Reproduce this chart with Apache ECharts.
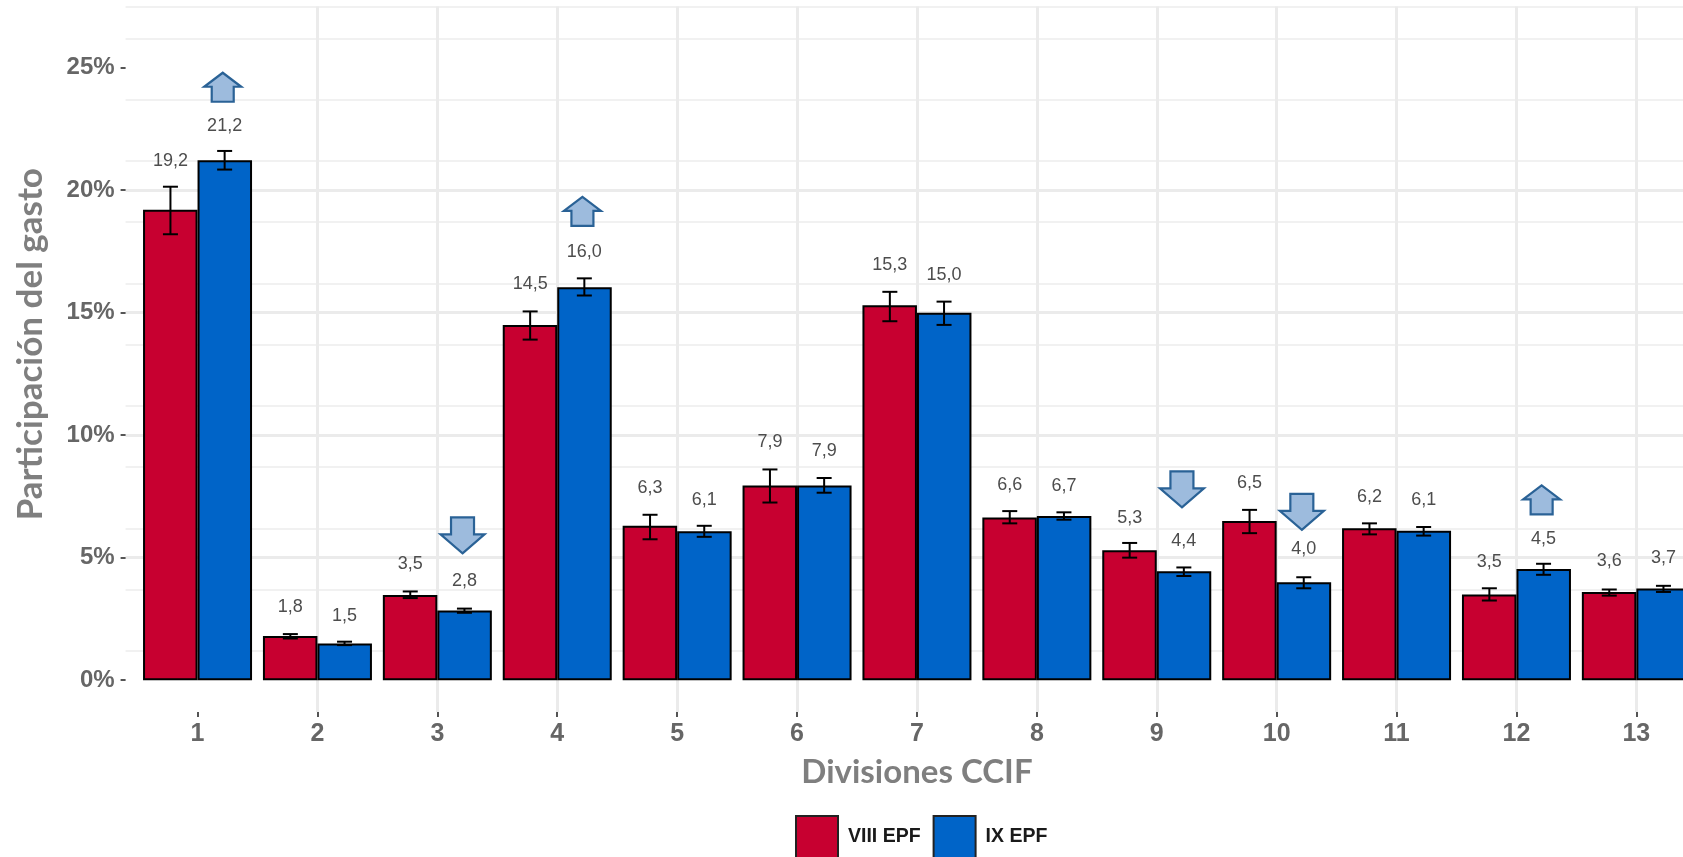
<!DOCTYPE html>
<html><head><meta charset="utf-8">
<style>html,body{margin:0;padding:0;background:#fff}#c{width:1683px;height:857px}</style>
<script src="https://cdn.jsdelivr.net/npm/echarts@6/dist/echarts.min.js"></script>
</head><body><div id="c"></div>
<script>
const divisions=[1,2,3,4,5,6,7,8,9,10,11,12,13];
const viiiValues=[19.2,1.8,3.48,14.5,6.3,7.94,15.3,6.64,5.3,6.5,6.2,3.5,3.6];
const ixValues=[21.22,1.5,2.84,16.04,6.08,7.94,15.0,6.7,4.44,4.0,6.1,4.54,3.74];
const viiiLow=[18.2,1.7,3.35,13.9,5.75,7.25,14.65,6.4,5.0,6.0,5.95,3.25,3.45];
const viiiHigh=[20.14,1.88,3.62,15.05,6.75,8.6,15.85,6.9,5.6,6.95,6.4,3.75,3.7];
const ixLow=[20.84,1.43,2.75,15.7,5.85,7.65,14.5,6.55,4.25,3.75,5.9,4.3,3.6];
const ixHigh=[21.6,1.57,2.92,16.4,6.3,8.25,15.45,6.85,4.6,4.2,6.25,4.75,3.85];
const viiiLabelLevel=[21.2,2.98,4.73,16.16,7.84,9.72,16.94,7.97,6.61,8.06,7.49,4.82,4.86];
const ixLabelLevel=[22.6,2.63,4.03,17.47,7.36,9.37,16.55,7.92,5.69,5.34,7.36,5.78,4.99];
const arrowDivision=[1,3,4,9,10,12];
const arrowLevel=[24.2,5.91,19.13,7.79,6.87,7.36];
const arrowUp=[1,0,1,0,0,1];
const yTicks=[0,5,10,15,20,25];
const groupNames=['VIII EPF','IX EPF'];
const colors=['#C70030','#0064C8'];

const OFF=0.226;
const chart=echarts.init(document.getElementById('c'),null,{renderer:'canvas'});
const pairs=a=>a.map((v,i)=>[divisions[i],v]);
const fmt=v=>v.toFixed(1).replace('.',',');

function errItem(shift){
  return function(p,api){
    const x=api.value(0)+shift;
    const a=api.coord([x,api.value(1)]),b=api.coord([x,api.value(2)]);
    const cap=7.5;
    const st={stroke:'#000',lineWidth:2,fill:null};
    return {type:'group',children:[
      {type:'line',shape:{x1:a[0],y1:a[1],x2:b[0],y2:b[1]},style:st},
      {type:'line',shape:{x1:a[0]-cap,y1:a[1],x2:a[0]+cap,y2:a[1]},style:st},
      {type:'line',shape:{x1:b[0]-cap,y1:b[1],x2:b[0]+cap,y2:b[1]},style:st}
    ]};
  };
}
function labelItem(shift){
  return function(p,api){
    const c=api.coord([api.value(0)+shift,api.value(1)]);
    return {type:'text',x:c[0],y:c[1],style:{text:fmt(api.value(2)),fill:'#4d4d4d',
      font:'18px "Liberation Sans"',align:'center',verticalAlign:'middle'}};
  };
}
function arrowItem(p,api){
  const c=api.coord([api.value(0),api.value(1)]);
  const up=api.value(2)===1;
  const hw=up?18.5:22, hh=up?14.5:18, sw=up?11:11.5, head=up?14:19;
  const s=up?1:-1;
  const pts=[[0,-hh],[hw,-hh+head],[sw,-hh+head],[sw,hh],[-sw,hh],[-sw,-hh+head],[-hw,-hh+head]]
    .map(q=>[c[0]+q[0],c[1]+s*q[1]]);
  return {type:'polygon',shape:{points:pts},style:{fill:'#9DBBDD',stroke:'#2A6296',lineWidth:2.2}};
}

const grid={left:125.6,top:6.4,width:1582.7,height:705.6,outerBoundsMode:'none'};
const option={
  animation:false,
  backgroundColor:'#fff',
  grid:grid,
  legend:{data:groupNames.map(n=>({name:n,icon:'rect'})),left:790,top:810,itemWidth:42,itemHeight:42,itemGap:12,
    itemStyle:{borderColor:'#222',borderWidth:2},
    textStyle:{fontFamily:'Liberation Sans',fontWeight:'bold',fontSize:19.5,color:'#1a1a1a',padding:[0,0,0,5]}},
  xAxis:{type:'value',min:0.4,max:13.6,interval:1,
    name:'Divisiones CCIF',nameLocation:'middle',nameGap:0,
    nameTextStyle:{fontFamily:'Lato',fontWeight:'bold',fontSize:33,color:'#7f7f7f',padding:[44,0,0,0]},
    axisLine:{show:false,onZero:false},
    axisTick:{show:true,length:5,lineStyle:{color:'#555',width:2},customValues:divisions},
    axisLabel:{customValues:divisions,color:'#666',fontFamily:'Liberation Sans',fontWeight:'bold',fontSize:25,margin:10,
      formatter:v=>String(v)},
    splitLine:{show:true,showMinLine:false,lineStyle:{color:'#ebebeb',width:3}}
  },
  yAxis:[
    {type:'value',min:-1.3,max:27.5,interval:5,
     name:'Participación del gasto',nameLocation:'middle',nameGap:0,nameRotate:90,
     nameTextStyle:{fontFamily:'Lato',fontWeight:'bold',fontSize:35,color:'#7f7f7f',padding:[0,0,77,30]},
     axisLine:{show:false},
     axisTick:{show:true,length:5,lineStyle:{color:'#555',width:2},customValues:yTicks},
     axisLabel:{customValues:yTicks,color:'#666',fontFamily:'Liberation Sans',fontWeight:'bold',fontSize:24,margin:11,
       formatter:v=>v+'%'},
     splitLine:{show:true,showMinLine:false,showMaxLine:false,lineStyle:{color:'#ebebeb',width:3}}},
    {type:'value',min:-1.3,max:27.5,interval:2.5,position:'left',
     axisLine:{show:false},axisTick:{show:false},axisLabel:{show:false},
     splitLine:{show:true,showMinLine:false,lineStyle:{color:'#f1f1f1',width:2}}}
  ],
  series:[
    {name:groupNames[0],type:'bar',data:pairs(viiiValues),barWidth:54.5,barGap:'0%',z:3,
     itemStyle:{color:colors[0],borderColor:'#000',borderWidth:2}},
    {name:groupNames[1],type:'bar',data:pairs(ixValues),barWidth:54.5,barGap:'0%',z:3,
     itemStyle:{color:colors[1],borderColor:'#000',borderWidth:2}},
    {type:'custom',z:5,renderItem:errItem(-OFF),data:divisions.map((d,i)=>[d,viiiLow[i],viiiHigh[i]]),encode:{x:0,y:[1,2]}},
    {type:'custom',z:5,renderItem:errItem(OFF),data:divisions.map((d,i)=>[d,ixLow[i],ixHigh[i]]),encode:{x:0,y:[1,2]}},
    {type:'custom',z:6,renderItem:labelItem(-OFF),data:divisions.map((d,i)=>[d,viiiLabelLevel[i],viiiValues[i]]),encode:{x:0,y:1}},
    {type:'custom',z:6,renderItem:labelItem(OFF),data:divisions.map((d,i)=>[d,ixLabelLevel[i],ixValues[i]]),encode:{x:0,y:1}},
    {type:'custom',z:7,renderItem:arrowItem,data:arrowDivision.map((d,i)=>[d+0.21,arrowLevel[i],arrowUp[i]]),encode:{x:0,y:1}}
  ]
};
chart.setOption(option);
</script></body></html>
